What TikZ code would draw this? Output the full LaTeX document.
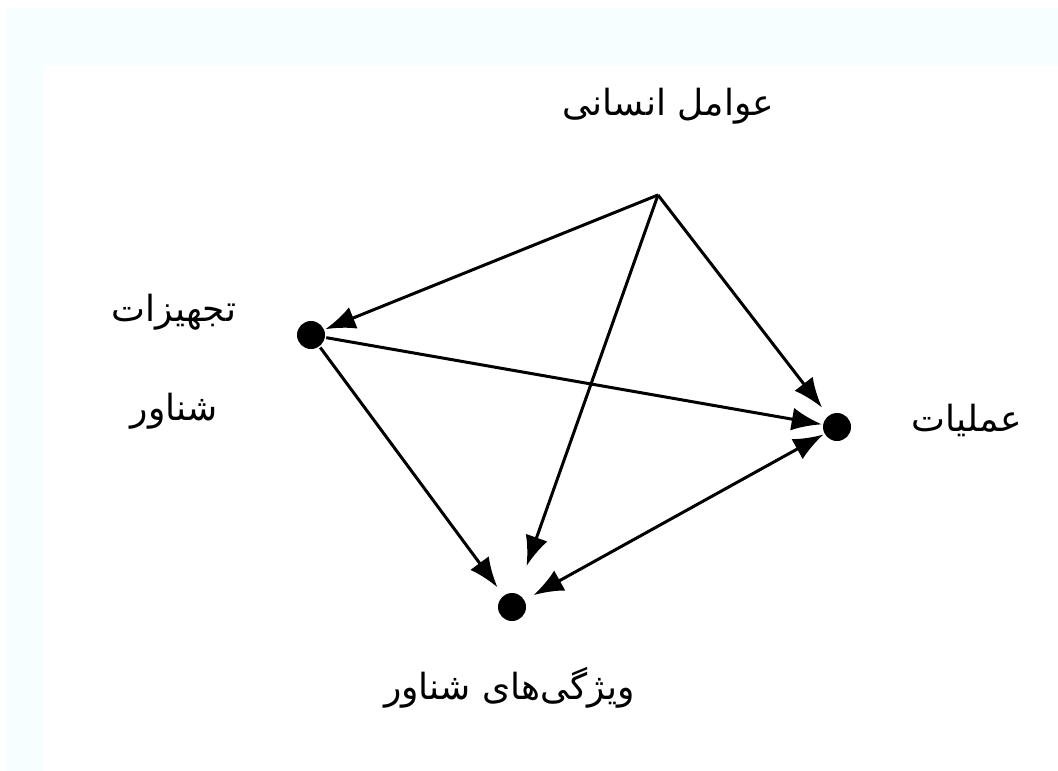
\documentclass[tikz,border=0pt]{standalone}
\usepackage{fontspec}
\usetikzlibrary{arrows.meta}
\newfontfamily\farsi[Script=Arabic]{DejaVu Sans}
\TeXXeTstate=1
\definecolor{pagetint}{RGB}{247,254,255}
\newcommand{\fa}[1]{{\farsi\beginR #1\endR}}

\begin{document}
\begin{tikzpicture}[x=1pt, y=-1pt,
	dot/.style={circle, fill=black, inner sep=0pt, minimum size=28pt},
	caption/.style={font=\fontsize{36}{43}\selectfont, inner sep=0pt, align=center},
	>={Latex[length=30pt, width=23pt]}, line width=3pt]
	\useasboundingbox (0,0) rectangle (1058,771);
	\fill [pagetint] (7,8) rectangle (1058,65);
	\fill [pagetint] (7,65) rectangle (44,771);

	\coordinate (1) at (658,195);
	\node [dot] (2) at (311,335) {};
	\node [dot] (3) at (837,427) {};
	\node [dot] (4) at (512,607) {};

	\node [caption] (t1) at (674,106) 
		{ \fa{عوامل انسانی} };
	\node [caption] (t2) at (174,362) 
		{ \fa{تجهیزات} \\[56pt] \fa{شناور} };
	\node [caption] (t3) at (972,420) 
		{ \fa{عملیات} };
	\node [caption] (t4) at (515,688) 
		{ \fa{ویژگی‌های شناور} };

	\draw [ -> ] (1) to (2);
	\draw [ -> , shorten >=9pt ] (1) to (3);
	\draw [ -> , shorten >=28pt ] (1) to (4);
	\draw [ -> ] (2) to (3);
	\draw [ -> , shorten >=9pt ] (2) to (4);
	\draw [ <-> , shorten <=9pt ] (4) to (3);
\end{tikzpicture}
\end{document}
